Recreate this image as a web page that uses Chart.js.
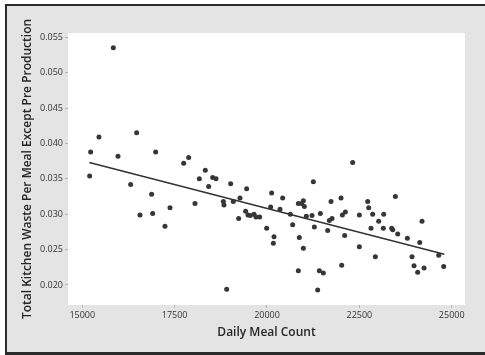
<!DOCTYPE html>
<html>
<head>
<meta charset="utf-8">
<script src="https://cdn.jsdelivr.net/npm/chart.js@4/dist/chart.umd.min.js"></script>
<style>
  html, body { margin: 0; padding: 0; background: #fff; overflow: hidden; }
  #frame {
    position: absolute; left: 5px; top: 4px;
    width: 490px; height: 351px;
    box-sizing: border-box;
    border-left: 2px solid #2b2b2b;
    border-top: 2px solid #2b2b2b;
    border-bottom: 3px solid #2b2b2b;
    background: #e4e4e4;
  }
  #frame canvas { display: block; }
</style>
</head>
<body>
<div id="frame"><canvas id="myChart" width="488" height="346"></canvas></div>
<script>
// daily meal count vs waste per meal
const mealCount = [15226, 15199, 15451, 15839, 15966, 16309, 16471, 16561, 16877, 16904,
  16986, 17238, 17374, 17744, 17879, 18051, 18168, 18330, 18421, 18529,
  18619, 18818, 18836, 18908, 19016, 19088, 19233, 19269, 19449, 19422,
  19485, 19549, 19648, 19702, 19801, 19991, 20126, 20099, 20190, 20172,
  20352, 20424, 20632, 20695, 20848, 20875, 20848, 20939, 20984, 21011,
  20984, 21065, 21219, 21255, 21282, 21417, 21444, 21525, 21372, 21643,
  21688, 21733, 21760, 22004, 22022, 22040, 22103, 22121, 22319, 22500,
  22500, 22726, 22753, 22816, 22861, 22933, 23023, 23150, 23159, 23375,
  23403, 23475, 23538, 23800, 23926, 23980, 24079, 24134, 24197, 24251,
  24648, 24783];
const wastePerMeal = [0.0388, 0.0354, 0.0409, 0.0535, 0.0382, 0.0342, 0.0415, 0.0299, 0.0328, 0.0301,
  0.0388, 0.0283, 0.0309, 0.0372, 0.0380, 0.0315, 0.0350, 0.0362, 0.0339, 0.0352,
  0.0350, 0.0318, 0.0313, 0.0194, 0.0343, 0.0318, 0.0294, 0.0323, 0.0336, 0.0304,
  0.0299, 0.0298, 0.0300, 0.0296, 0.0296, 0.0280, 0.0330, 0.0310, 0.0268, 0.0259,
  0.0307, 0.0323, 0.0300, 0.0285, 0.0315, 0.0267, 0.0220, 0.0315, 0.0319, 0.0311,
  0.0252, 0.0297, 0.0298, 0.0346, 0.0282, 0.0220, 0.0301, 0.0217, 0.0193, 0.0277,
  0.0291, 0.0318, 0.0294, 0.0323, 0.0228, 0.0299, 0.0270, 0.0303, 0.0373, 0.0299,
  0.0254, 0.0318, 0.0309, 0.0280, 0.0300, 0.0240, 0.0290, 0.0280, 0.0300, 0.0280,
  0.0278, 0.0325, 0.0272, 0.0266, 0.0240, 0.0227, 0.0218, 0.0260, 0.0290, 0.0224,
  0.0242, 0.0226];

// fitted line end points
const fitX = [15190, 24800];
const fitY = [0.0373, 0.02433];

const xTicks = [15000, 17500, 20000, 22500, 25000];
const yTicks = [0.020, 0.025, 0.030, 0.035, 0.040, 0.045, 0.050, 0.055];

const plotBg = {
  id: 'plotBg',
  beforeDraw(chart) {
    const a = chart.chartArea;
    const c = chart.ctx;
    c.save();
    c.fillStyle = '#ffffff';
    c.fillRect(a.left, a.top, a.right - a.left, a.bottom - a.top);
    c.restore();
  }
};

const ctx = document.getElementById('myChart').getContext('2d');

const myChart = new Chart(ctx, {
  type: 'scatter',
  data: {
    datasets: [{
      label: 'Waste',
      data: mealCount.map((x, i) => ({ x: x, y: wastePerMeal[i] })),
      backgroundColor: '#363636',
      borderColor: '#363636',
      pointRadius: 2.5,
      borderWidth: 0
    }, {
      type: 'line',
      label: 'Fit',
      data: fitX.map((x, i) => ({ x: x, y: fitY[i] })),
      borderColor: '#333333',
      borderWidth: 1.6,
      pointRadius: 0,
      fill: false
    }]
  },
  options: {
    responsive: false,
    animation: false,
    layout: { padding: { left: 0, right: 30, top: 27, bottom: 0 } },
    plugins: {
      legend: { display: false },
      tooltip: { enabled: false }
    },
    scales: {
      x: {
        type: 'linear',
        min: 14613,
        max: 25360,
        afterBuildTicks: (s) => { s.ticks = xTicks.map(v => ({ value: v })); },
        afterFit: (s) => { s.height = 47; },
        border: { display: false },
        grid: { drawOnChartArea: false, tickLength: 3, color: '#b5b5b5' },
        ticks: {
          padding: 2,
          maxRotation: 0,
          color: '#333',
          font: { family: 'Open Sans', size: 9 },
          callback: (v) => String(v)
        },
        title: {
          display: true,
          text: 'Daily Meal Count',
          color: '#262626',
          font: { family: 'Open Sans', size: 12, weight: '600' },
          padding: { top: 0, bottom: 12.5 }
        }
      },
      y: {
        min: 0.01717,
        max: 0.0556,
        afterBuildTicks: (s) => { s.ticks = yTicks.map(v => ({ value: v })); },
        afterFit: (s) => { s.width = 61; },
        border: { display: false },
        grid: { drawOnChartArea: false, tickLength: 3, color: '#b5b5b5' },
        ticks: {
          padding: 2,
          color: '#333',
          font: { family: 'Open Sans', size: 9 },
          callback: (v) => v.toFixed(3)
        },
        title: {
          display: true,
          text: 'Total Kitchen Waste Per Meal Except Pre Production',
          color: '#262626',
          font: { family: 'Open Sans', size: 12, weight: '600' },
          padding: { top: 13.5, bottom: 0 }
        }
      }
    }
  },
  plugins: [plotBg]
});
</script>
</body>
</html>
